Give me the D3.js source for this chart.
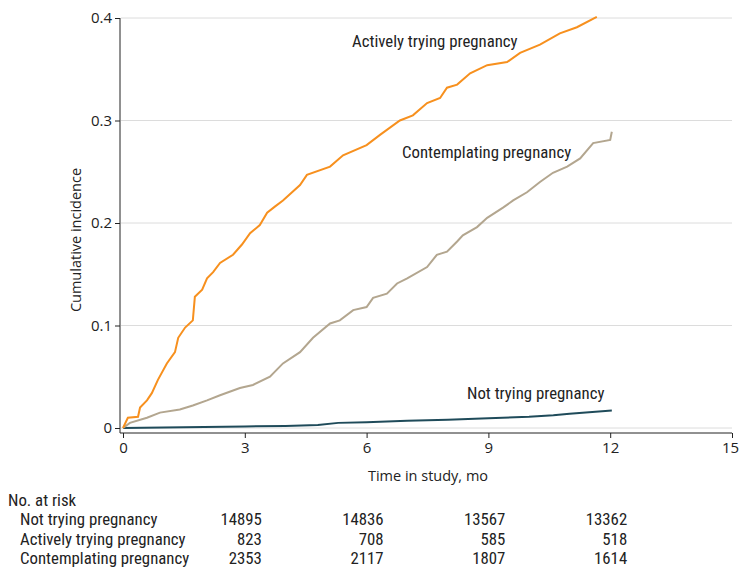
<!DOCTYPE html>
<html><head><meta charset="utf-8">
<script src="https://cdn.jsdelivr.net/npm/d3@7"></script>
<style>body{margin:0;background:#fff}svg{display:block}</style>
</head><body>
<script>
const activelyTrying = [[0,0],[0.12,0.01],[0.37,0.011],[0.42,0.02],[0.59,0.027],[0.71,0.034],[0.86,0.047],[1.08,0.063],[1.28,0.074],[1.36,0.088],[1.53,0.098],[1.72,0.105],[1.77,0.128],[1.95,0.135],[2.07,0.146],[2.22,0.152],[2.39,0.161],[2.71,0.169],[2.93,0.179],[3.13,0.19],[3.37,0.198],[3.55,0.21],[3.74,0.216],[3.94,0.222],[4.36,0.237],[4.53,0.247],[5.1,0.255],[5.42,0.266],[6.0,0.276],[6.33,0.286],[6.82,0.3],[7.14,0.305],[7.49,0.317],[7.81,0.322],[7.98,0.332],[8.23,0.335],[8.55,0.346],[8.97,0.354],[9.46,0.357],[9.78,0.366],[10.27,0.374],[10.76,0.385],[11.18,0.391],[11.67,0.401]];
const contemplating = [[0,0],[0.17,0.005],[0.59,0.01],[0.91,0.015],[1.4,0.018],[1.72,0.022],[2.07,0.027],[2.39,0.032],[2.88,0.039],[3.2,0.042],[3.62,0.05],[3.94,0.063],[4.36,0.074],[4.68,0.088],[5.1,0.102],[5.34,0.105],[5.67,0.115],[6.0,0.118],[6.16,0.127],[6.5,0.131],[6.75,0.141],[7.0,0.146],[7.49,0.157],[7.73,0.169],[7.98,0.172],[8.23,0.182],[8.37,0.188],[8.72,0.196],[8.97,0.205],[9.36,0.215],[9.61,0.222],[9.95,0.23],[10.27,0.24],[10.59,0.249],[10.94,0.255],[11.26,0.263],[11.58,0.278],[12.0,0.281],[12.04,0.289]];
const notTrying = [[0,0],[1,0.0005],[2,0.001],[3,0.0015],[4,0.002],[4.8,0.003],[5.3,0.005],[6,0.0055],[7,0.007],[8,0.008],[9,0.0095],[10,0.011],[10.6,0.0125],[11,0.014],[12.04,0.017]];
const xTicks = [0,3,6,9,12,15];
const yTicks = [0,0.1,0.2,0.3,0.4];
const yTickLabels = ["0","0.1","0.2","0.3","0.4"];
const riskGroups = ["Not trying pregnancy","Actively trying pregnancy","Contemplating pregnancy"];
const riskNotTrying = ["14895","14836","13567","13362"];
const riskActively = ["823","708","585","518"];
const riskContemplating = ["2353","2117","1807","1614"];
const riskColumns = [3,6,9,12];

const W=739,H=567;
const svg=d3.select("body").append("svg").attr("width",W).attr("height",H);
const x=d3.scaleLinear().domain([0,15]).range([123,732]);
const y=d3.scaleLinear().domain([0,0.4]).range([428,18]);
const tickFont="'Open Sans', sans-serif";
const narrow="'Roboto Condensed',sans-serif";
const ink="#222";

svg.append("g").selectAll("line").data(yTicks).join("line")
  .attr("x1",121).attr("x2",732).attr("y1",d=>y(d)).attr("y2",d=>y(d))
  .attr("stroke","#dcdcdc").attr("stroke-width",1);

const yAxis=svg.append("g").attr("transform","translate(120,0)")
  .call(d3.axisLeft(y).tickValues(yTicks).tickFormat((d,i)=>yTickLabels[i]).tickSize(5).tickSizeOuter(0));
yAxis.select(".domain").attr("d","M0,18V433").attr("stroke",ink);
yAxis.selectAll("text").attr("font-family",tickFont).attr("font-size",15).attr("fill",ink).attr("x",-8);
yAxis.selectAll(".tick line").attr("stroke",ink);

const xAxis=svg.append("g").attr("transform","translate(0,433)")
  .call(d3.axisBottom(x).tickValues(xTicks).tickFormat(d3.format("d")).tickSize(5).tickSizeOuter(0));
xAxis.select(".domain").attr("d","M120,0H732").attr("stroke",ink);
xAxis.selectAll("text").attr("font-family",tickFont).attr("font-size",15).attr("fill",ink).attr("y",9)
  .attr("dx",d=>d===15?-2:0);
xAxis.selectAll(".tick line").attr("stroke",ink);

svg.append("text").attr("x",428).attr("y",481).attr("text-anchor","middle")
  .attr("font-family",tickFont).attr("font-size",14.5).attr("fill",ink).text("Time in study, mo");
svg.append("text").attr("transform","translate(81,240) rotate(-90)").attr("text-anchor","middle")
  .attr("font-family",tickFont).attr("font-size",14.5).attr("fill",ink).text("Cumulative incidence");

const line=d3.line().x(d=>x(d[0])).y(d=>y(d[1])).curve(d3.curveLinear);
svg.append("path").datum(notTrying).attr("d",line).attr("fill","none").attr("stroke","#1f4b5a").attr("stroke-width",2);
svg.append("path").datum(contemplating).attr("d",line).attr("fill","none").attr("stroke","#b3a68f").attr("stroke-width",2);
svg.append("path").datum(activelyTrying).attr("d",line).attr("fill","none").attr("stroke","#f7901e").attr("stroke-width",2);

const fs=16.8;
const lab=[["Actively trying pregnancy",352,47],["Contemplating pregnancy",402,158],["Not trying pregnancy",467,399]];
svg.append("g").selectAll("text").data(lab).join("text")
  .attr("x",d=>d[1]).attr("y",d=>d[2]).attr("font-family",narrow).attr("font-size",fs).attr("fill",ink).text(d=>d[0]);

svg.append("text").attr("x",8).attr("y",506).attr("font-family",narrow).attr("font-size",fs).attr("fill",ink).text("No. at risk");
const rows=[riskNotTrying,riskActively,riskContemplating];
riskGroups.forEach((g,i)=>{
  const yy=525+i*19.5;
  svg.append("text").attr("x",20).attr("y",yy).attr("font-family",narrow).attr("font-size",fs).attr("fill",ink).text(g);
  svg.append("g").selectAll("text").data(rows[i]).join("text")
    .attr("x",(d,j)=>x(riskColumns[j])+17).attr("y",yy).attr("text-anchor","end")
    .attr("font-family",narrow).attr("font-size",fs).attr("fill",ink).text(d=>d);
});
</script>
</body></html>
